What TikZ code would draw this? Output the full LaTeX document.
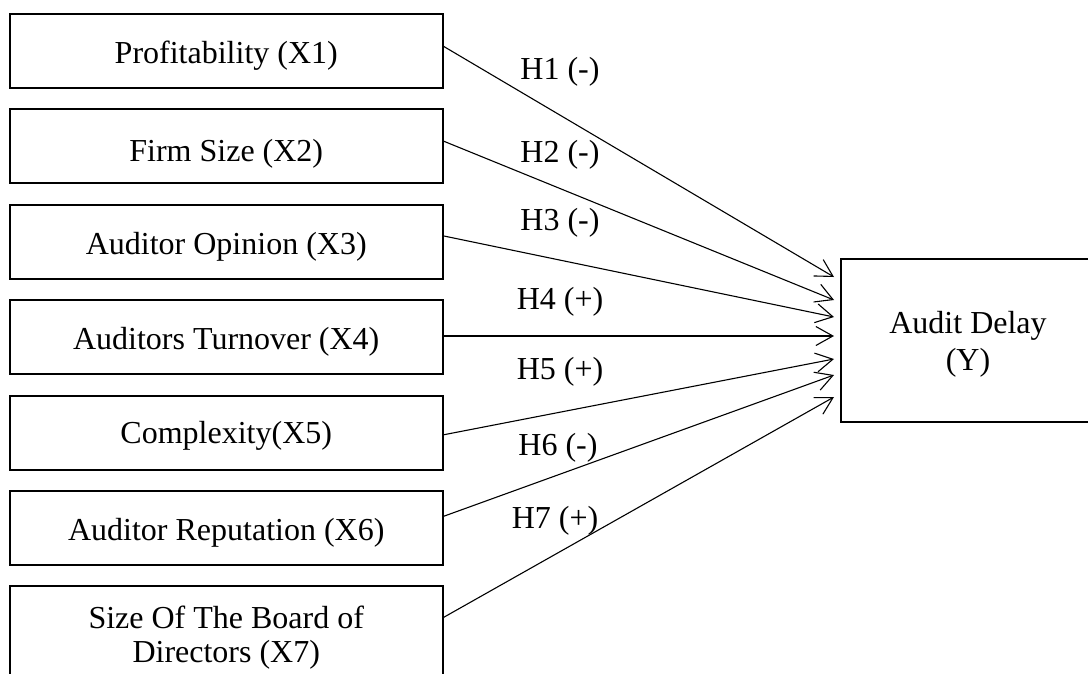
\documentclass[tikz,border=0pt]{standalone}
\usepackage{fontspec}
\setmainfont{Liberation Serif}
\usetikzlibrary{arrows.meta,calc}
\begin{document}
\begin{tikzpicture}[x=1pt,y=-1pt,
  txt/.style={font=\fontsize{32}{37}\selectfont},
  box/.style={txt,draw,line width=2pt,outer sep=0pt,minimum width=432.5pt,minimum height=74pt,inner sep=0pt,text height=24pt,text depth=0pt},
  mbox/.style={txt,draw,line width=2pt,outer sep=0pt,inner sep=0pt,align=center},
  hyp/.style={txt,anchor=base,inner sep=0pt},
  arr/.style={line width=1.1pt,-{Straight Barb[length=17pt,width=19pt]}}]
\useasboundingbox (0,0) rectangle (1088,673);
\node[box] (b1) at (226.25,51) {Profitability (X1)};
\node[box,text height=31pt] (b2) at (226.25,146) {Firm Size (X2)};
\node[box] (b3) at (226.25,242) {Auditor Opinion (X3)};
\node[box] (b4) at (226.25,337) {Auditors Turnover (X4)};
\node[box,text height=20pt] (b5) at (226.25,433) {Complexity(X5)};
\node[box] (b6) at (226.25,528) {Auditor Reputation (X6)};
\node[mbox,minimum width=432.5pt,minimum height=103pt] (b7) at (226.25,637.5)
  {Size Of The Board of\\[-2.6pt]Directors (X7)};
\node[mbox,minimum width=254pt,minimum height=163pt] (Y) at (968,340.5)
  {\rule{0pt}{30pt}Audit Delay\\(Y)};
\node[hyp] (h1) at (560,79) {H1 (-)};
\node[hyp] (h2) at (560,162) {H2 (-)};
\node[hyp] (h3) at (560,230) {H3 (-)};
\node[hyp] (h4) at (560,309) {H4 (+)};
\node[hyp] (h5) at (560,379) {H5 (+)};
\node[hyp] (h6) at (558,455) {H6 (-)};
\node[hyp] (h7) at (555,528) {H7 (+)};
\draw[arr] ($(b1.east)+(0,-5.3)$) -- ($(Y.west)+(-7,-63.5)$);
\draw[arr] ($(b2.east)+(0,-5.3)$) -- ($(Y.west)+(-7,-40.5)$);
\draw[arr] ($(b3.east)+(0,-6.3)$) -- ($(Y.west)+(-7,-23.5)$);
\draw[arr] ($(b4.east)+(0,-1)$) -- ($(Y.west)+(-7,-4.5)$);
\draw[arr] ($(b5.east)+(0,2)$) -- ($(Y.west)+(-7,18.5)$);
\draw[arr] ($(b6.east)+(0,-11.3)$) -- ($(Y.west)+(-7,34.5)$);
\draw[arr] ($(b7.east)+(0,-19.5)$) -- ($(Y.west)+(-7,56.5)$);
\end{tikzpicture}
\end{document}
